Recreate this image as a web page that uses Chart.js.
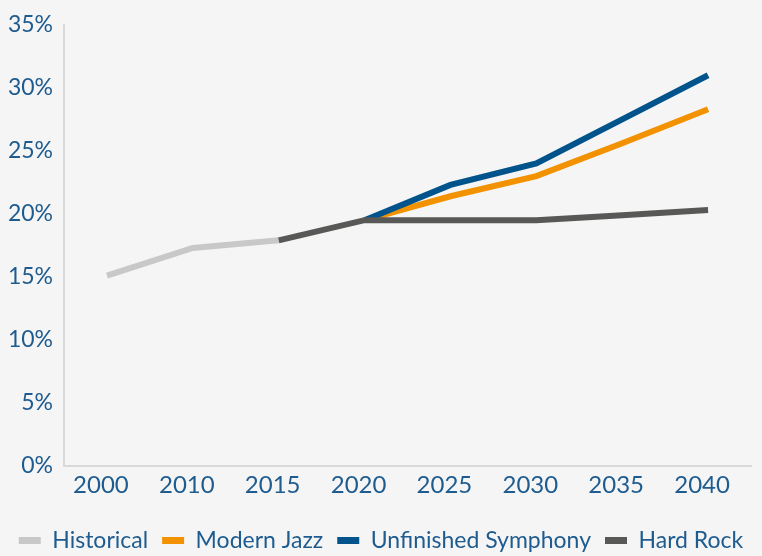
<!DOCTYPE html>
<html>
<head>
<meta charset="utf-8">
<script src="https://cdn.jsdelivr.net/npm/chart.js@4"></script>
<style>
  html, body { margin: 0; padding: 0; background: #f5f5f5; }
  #wrap { width: 762px; height: 556px; }
</style>
</head>
<body>
<div id="wrap"><canvas id="chart" width="762" height="556"></canvas></div>
<script>
// Data
const years = ['2000', '2010', '2015', '2020', '2025', '2030', '2035', '2040'];
const historical = [15.1, 17.3, 17.9, null, null, null, null, null];
const modernJazz = [null, null, null, 19.5, 21.4, 23.0, 25.6, 28.3];
const unfinishedSymphony = [null, null, null, 19.5, 22.3, 24.0, 27.5, 31.0];
const hardRock = [null, null, 17.9, 19.5, 19.5, 19.5, 19.9, 20.3];
const yTicks = [0, 5, 10, 15, 20, 25, 30, 35];

const colors = {
  historical: '#c8c8c8',
  jazz: '#f39200',
  symphony: '#00548b',
  rock: '#585857',
  text: '#1e5b8f',
  axis: '#d9d9d9',
};

const FONT = 'Lato, "Open Sans", sans-serif';

function series(label, data, color, order) {
  return {
    label, data, order,
    borderColor: color,
    backgroundColor: color,
    borderWidth: 6,
    borderCapStyle: 'butt',
    borderJoinStyle: 'miter',
    pointRadius: 0,
    pointHoverRadius: 0,
    tension: 0,
    spanGaps: false,
  };
}

const ctx = document.getElementById('chart').getContext('2d');
new Chart(ctx, {
  type: 'line',
  data: {
    labels: years,
    datasets: [
      series('Historical', historical, colors.historical, 4),
      series('Modern Jazz', modernJazz, colors.jazz, 3),
      series('Unfinished Symphony', unfinishedSymphony, colors.symphony, 2),
      series('Hard Rock', hardRock, colors.rock, 1),
    ]
  },
  options: {
    responsive: false,
    animation: false,
    // no side padding so the legend gets the full width; side gaps come from the axes
    layout: { padding: { left: 0, right: 0, top: 2, bottom: -6 } },
    plugins: {
      tooltip: { enabled: false },
      legend: {
        position: 'bottom',
        labels: {
          boxWidth: 22,
          boxHeight: 7,
          padding: 14,
          color: colors.text,
          font: { family: FONT, size: 23 },
          sort: (a, b) => a.datasetIndex - b.datasetIndex,
          generateLabels: chart =>
            Chart.defaults.plugins.legend.labels.generateLabels(chart)
              .map(l => Object.assign(l, { lineWidth: 0 })),
        }
      }
    },
    scales: {
      x: {
        offset: true,
        grid: { display: false, drawTicks: false },
        border: { display: true, color: colors.axis, width: 2 },
        ticks: {
          color: colors.text,
          padding: 5,
          labelOffset: -6,
          font: { family: FONT, size: 24 },
          maxRotation: 0,
          autoSkip: false,
        },
        afterFit: s => { s.height = 49; }
      },
      y: {
        min: 0,
        max: 35,
        afterBuildTicks: s => { s.ticks = yTicks.map(v => ({ value: v })); },
        grid: { display: false, drawTicks: false },
        border: { display: true, color: colors.axis, width: 2 },
        ticks: {
          color: colors.text,
          padding: 11,
          font: { family: FONT, size: 23 },
          callback: v => v + '%'
        },
        afterFit: s => { s.width = 64; }
      },
      // empty right-hand axis that only keeps the gap at the right edge
      yRight: {
        position: 'right',
        min: 0,
        max: 35,
        grid: { display: false, drawTicks: false },
        border: { display: false },
        ticks: { display: false },
        afterFit: s => { s.width = 11; }
      }
    }
  }
});
</script>
</body>
</html>
